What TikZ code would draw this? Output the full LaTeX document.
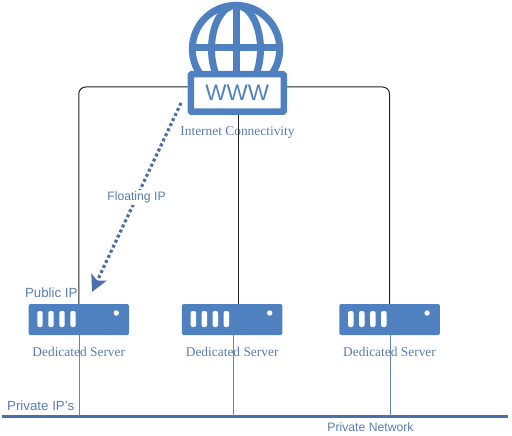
\documentclass[tikz,border=0pt]{standalone}
\usepackage{fontspec}
\setmainfont{Liberation Sans}
\newfontfamily\labelserif{Liberation Serif}
\usetikzlibrary{arrows.meta, positioning, calc}
\definecolor{serverblue}{RGB}{79,129,192}
\definecolor{labelblue}{RGB}{88,124,178}
\definecolor{busblue}{RGB}{74,112,170}
\definecolor{linkgray}{RGB}{35,35,35}
\begin{document}
\begin{tikzpicture}[
    x=1pt, y=-1pt,
    server/.style={rectangle, fill=serverblue, rounded corners=1.5pt, minimum width=100.5pt, minimum height=31pt, inner sep=0pt},
    wwwbox/.style={rectangle, draw=serverblue, fill=white, line width=6.5pt, rounded corners=1pt, minimum width=93pt, minimum height=37.5pt, inner sep=0pt, text=serverblue, font=\fontsize{22.5}{24}\selectfont},
    globeline/.style={draw=serverblue, line width=7pt},
    uplink/.style={color=linkgray, line width=1pt, rounded corners=7pt},
    privatelink/.style={color=busblue!85, line width=1pt},
    bus/.style={color=busblue, line width=3pt},
    floating/.style={-{Stealth[length=16.4pt, width=16.6pt, inset=4pt]}, color=busblue, line width=3.2pt, dash pattern=on 3pt off 2.6pt},
    caption/.style={text=labelblue, inner sep=0pt, font=\labelserif\fontsize{13.4}{15}\selectfont},
    iplabel/.style={text=labelblue, inner sep=0pt, font=\fontsize{13.3}{15}\selectfont},
    smalllabel/.style={text=labelblue, inner sep=2pt, font=\fontsize{12.2}{14}\selectfont}
]
\useasboundingbox (0,0) rectangle (512,436);
\coordinate (globe) at (236,49);
\draw[globeline] (globe) circle [radius=43.7];
\draw[globeline] (globe) ellipse [x radius=24.5, y radius=43.7];
\draw[globeline] (globe |- 0,4) -- (globe |- 0,71);
\draw[globeline] ($(globe)+(-44,-1)$) -- ($(globe)+(44,-1)$);
\node[wwwbox] (www) at (237.25,93) {WWW};
\node[server] (srva) at (78.75,319.5) {};
\node[server, right=52.5pt of srva] (srvb) {};
\node[server, right=56.5pt of srvb] (srvc) {};
\foreach \s in {srva,srvb,srvc} {
    \foreach \x in {9,20,31,42} {
        \fill[white, rounded corners=2pt] ($(\s.west)+(\x,-8.5)$) rectangle ++(5.4,16);
    }
    \fill[white] ($(\s.west)+(88,-6.5)$) circle [radius=2.7];
}
\node[caption, below=11.5pt of srva] (capa) {Dedicated Server};
\node[caption, below=11.5pt of srvb] (capb) {Dedicated Server};
\node[caption, below=11.5pt of srvc] (capc) {Dedicated Server};
\node[caption] (capwww) at (237.5,133) {Internet Connectivity};
\coordinate (wwwl) at (187.5,87);
\coordinate (wwwr) at (287,87);
\draw[uplink] (wwwl) -| (srva.north);
\draw[uplink] (wwwr) -| (srvc.north);
\draw[uplink] (238.5,115) -- (238.5,304);
\coordinate (busl) at (1.5,416);
\coordinate (busr) at (508,416);
\draw[bus] (busl) -- (busr);
\foreach \s in {srva,srvb,srvc} {
    \draw[privatelink] ([xshift=1pt]\s.south) -- ([xshift=1pt]\s.south |- busl);
}
\coordinate (floatstart) at (181,103);
\coordinate (floatend) at (92,292);
\draw[floating] (floatstart) -- node[midway, fill=white, smalllabel] (floatlabel) {Floating IP} (floatend);
\node[iplabel, above left=5.5pt and 1pt of srva.north] (publicip) {Public IP};
\node[iplabel, above right=5pt and 5.5pt of busl] (privateip) {Private IP's};
\node[smalllabel] (privatenet) at (370.5,427.5) {Private Network};
\end{tikzpicture}
\end{document}
